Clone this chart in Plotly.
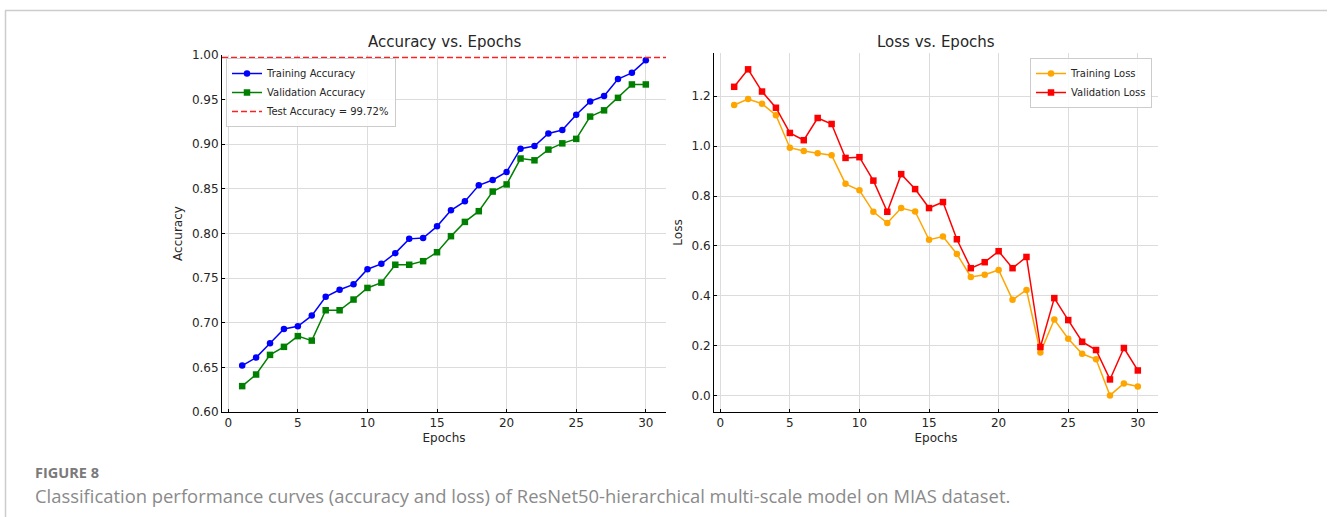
import plotly.graph_objects as go

epochs = list(range(1, 31))
train_acc = [0.652, 0.661, 0.677, 0.693, 0.696, 0.708, 0.729, 0.737, 0.743, 0.760,
             0.766, 0.778, 0.794, 0.795, 0.808, 0.826, 0.836, 0.854, 0.860, 0.869,
             0.895, 0.898, 0.912, 0.916, 0.933, 0.948, 0.954, 0.973, 0.980, 0.994]
val_acc = [0.629, 0.642, 0.664, 0.673, 0.685, 0.680, 0.714, 0.714, 0.726, 0.739,
           0.745, 0.765, 0.765, 0.769, 0.779, 0.797, 0.813, 0.825, 0.847, 0.855,
           0.884, 0.882, 0.894, 0.901, 0.906, 0.931, 0.938, 0.952, 0.967, 0.967]
test_acc = 0.9972
train_loss = [1.165, 1.189, 1.170, 1.124, 0.994, 0.981, 0.972, 0.964, 0.849, 0.823,
              0.737, 0.692, 0.752, 0.738, 0.625, 0.638, 0.568, 0.476, 0.485, 0.504,
              0.384, 0.424, 0.173, 0.305, 0.228, 0.168, 0.146, 0.001, 0.049, 0.037]
val_loss = [1.238, 1.308, 1.219, 1.154, 1.053, 1.024, 1.113, 1.089, 0.953, 0.956,
            0.862, 0.737, 0.888, 0.828, 0.752, 0.776, 0.627, 0.511, 0.535, 0.579,
            0.511, 0.556, 0.195, 0.391, 0.303, 0.216, 0.183, 0.065, 0.191, 0.101]

W, H = 1328, 517
FONT = "DejaVu Sans"
TXT = "#262626"

def px(x):
    return x / W

def py(y):
    return 1 - y / H

xr = [-0.45, 31.45]

fig = go.Figure()

fig.add_trace(go.Scatter(x=epochs, y=train_acc, mode="lines+markers", name="Training Accuracy",
                         line=dict(color="#0000ff", width=1.5), marker=dict(symbol="circle", size=6.5, color="#0000ff"),
                         xaxis="x", yaxis="y", legend="legend"))
fig.add_trace(go.Scatter(x=epochs, y=val_acc, mode="lines+markers", name="Validation Accuracy",
                         line=dict(color="#008000", width=1.5), marker=dict(symbol="square", size=6.5, color="#008000"),
                         xaxis="x", yaxis="y", legend="legend"))
fig.add_trace(go.Scatter(x=xr, y=[test_acc, test_acc], mode="lines",
                         name=f"Test Accuracy = {test_acc*100:.2f}%",
                         line=dict(color="#ff2020", width=1.5, dash="6px,3px"),
                         xaxis="x", yaxis="y", legend="legend"))

fig.add_trace(go.Scatter(x=epochs, y=train_loss, mode="lines+markers", name="Training Loss",
                         line=dict(color="#ffa500", width=1.5), marker=dict(symbol="circle", size=6.5, color="#ffa500"),
                         xaxis="x2", yaxis="y2", legend="legend2"))
fig.add_trace(go.Scatter(x=epochs, y=val_loss, mode="lines+markers", name="Validation Loss",
                         line=dict(color="#ff0000", width=1.5), marker=dict(symbol="square", size=6.5, color="#ff0000"),
                         xaxis="x2", yaxis="y2", legend="legend2"))

axis_common = dict(showline=True, linecolor="black", linewidth=1, mirror=False,
                   ticks="inside", ticklen=3, tickcolor="black", automargin=False,
                   showgrid=True, gridcolor="#dcdcdc", gridwidth=1, zeroline=False,
                   tickfont=dict(family=FONT, size=12, color=TXT))

fig.update_layout(
    width=W, height=H, autosize=False,
    margin=dict(l=0, r=0, t=0, b=0, pad=0, autoexpand=False),
    paper_bgcolor="white", plot_bgcolor="white",
    showlegend=True,
    xaxis=dict(domain=[px(222), px(666)], anchor="y", range=xr, tickvals=[0, 5, 10, 15, 20, 25, 30],
               title=dict(text="Epochs", font=dict(family=FONT, size=12, color=TXT), standoff=4), **axis_common),
    yaxis=dict(domain=[py(412), py(55)], anchor="x", range=[0.60, 1.00],
               tickvals=[0.60, 0.65, 0.70, 0.75, 0.80, 0.85, 0.90, 0.95, 1.00], tickformat=".2f",
               title=dict(text="Accuracy", font=dict(family=FONT, size=12, color=TXT), standoff=6), **axis_common),
    xaxis2=dict(domain=[px(714), px(1158)], anchor="y2", range=xr, tickvals=[0, 5, 10, 15, 20, 25, 30],
                title=dict(text="Epochs", font=dict(family=FONT, size=12, color=TXT), standoff=4), **axis_common),
    yaxis2=dict(domain=[py(412), py(53)], anchor="x2", range=[-0.0655, 1.3735],
                tickvals=[0.0, 0.2, 0.4, 0.6, 0.8, 1.0, 1.2], tickformat=".1f",
                title=dict(text="Loss", font=dict(family=FONT, size=12, color=TXT), standoff=6), **axis_common),
    legend=dict(x=px(226), y=py(58), xanchor="left", yanchor="top",
                bgcolor="rgba(255,255,255,0.85)", bordercolor="#cccccc", borderwidth=1,
                font=dict(family=FONT, size=10, color=TXT), tracegroupgap=0, itemwidth=30),
    legend2=dict(x=px(1152), y=py(58), xanchor="right", yanchor="top",
                 bgcolor="rgba(255,255,255,0.85)", bordercolor="#cccccc", borderwidth=1,
                 font=dict(family=FONT, size=10, color=TXT), tracegroupgap=0, itemwidth=30),
    annotations=[
        dict(text="Accuracy vs. Epochs", x=px(444), y=py(42), xref="paper", yref="paper",
             showarrow=False, font=dict(family=FONT, size=15, color=TXT), xanchor="center", yanchor="middle"),
        dict(text="Loss vs. Epochs", x=px(936), y=py(42), xref="paper", yref="paper",
             showarrow=False, font=dict(family=FONT, size=15, color=TXT), xanchor="center", yanchor="middle"),
        dict(text="<b>FIGURE 8</b>", x=px(33), y=py(472), xref="paper", yref="paper",
             showarrow=False, font=dict(family="Open Sans", size=14.5, color="#7a7a7a"),
             xanchor="left", yanchor="middle"),
        dict(text="Classification performance curves (accuracy and loss) of ResNet50-hierarchical multi-scale model on MIAS dataset.",
             x=px(33), y=py(495), xref="paper", yref="paper",
             showarrow=False, font=dict(family="Open Sans", size=18.4, color="#8a8a8a"),
             xanchor="left", yanchor="middle"),
    ],
    shapes=[
        dict(type="line", xref="paper", yref="paper", x0=px(5), x1=px(1327), y0=py(10.5), y1=py(10.5),
             line=dict(color="#cccccc", width=1.5)),
        dict(type="line", xref="paper", yref="paper", x0=px(5.5), x1=px(5.5), y0=py(10.5), y1=0,
             line=dict(color="#cccccc", width=1.5)),
    ],
)

post = ("document.body.style.margin='0';document.body.style.padding='0';"
        "document.body.style.overflow='hidden';document.documentElement.style.overflow='hidden';")
fig.write_html("out.html", post_script=post, config={"displayModeBar": False})
